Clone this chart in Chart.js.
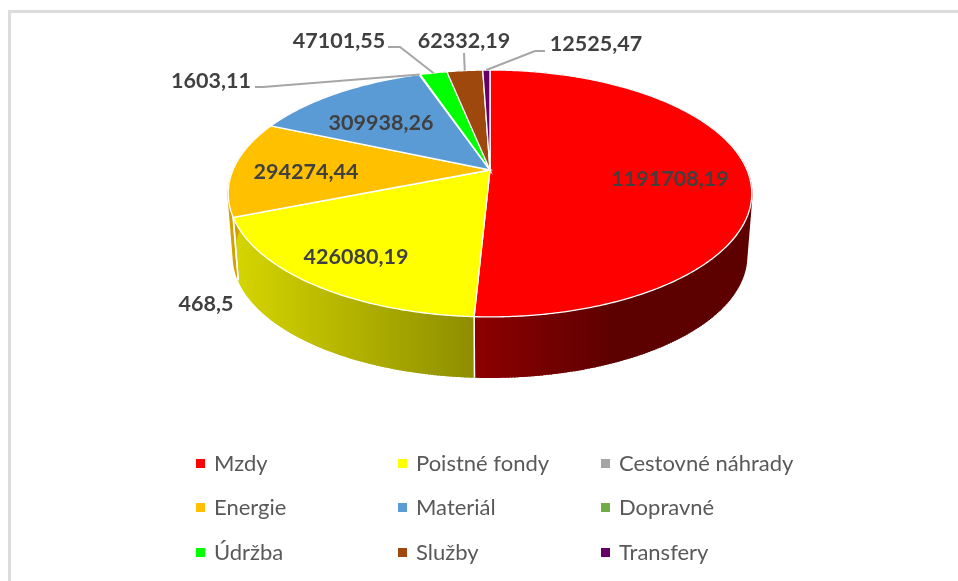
<!DOCTYPE html>
<html>
<head>
<meta charset="utf-8">
<script src="https://cdn.jsdelivr.net/npm/chart.js@4"></script>
<style>
    html, body { margin: 0; background: #fff; overflow: hidden; }
    #wrap { position: relative; width: 958px; height: 581px; }
    #pie { position: absolute; left: 0; top: 0; }
    #frameTop { position: absolute; left: 8px; top: 10px; width: 950px; height: 3px; background: #dcdcdc; }
    #frameLeft { position: absolute; left: 8px; top: 10px; width: 3px; height: 571px; background: #dcdcdc; }
    .leg { position: absolute; font: 22px Lato, sans-serif; color: #595959; white-space: nowrap; line-height: 24px; }
    .leg i { position: absolute; left: -18px; top: 8px; width: 9px; height: 9px; }
</style>
</head>
<body>
<div id="wrap">
    <div id="frameTop"></div>
    <div id="frameLeft"></div>
    <canvas id="pie" width="958" height="581"></canvas>
</div>
<script>
const categories = ['Mzdy', 'Poistné fondy', 'Cestovné náhrady', 'Energie', 'Materiál', 'Dopravné', 'Údržba', 'Služby', 'Transfery'];
const values = [1191708.19, 426080.19, 468.5, 294274.44, 309938.26, 1603.11, 47101.55, 62332.19, 12525.47];
const valueLabels = ['1191708,19', '426080,19', '468,5', '294274,44', '309938,26', '1603,11', '47101,55', '62332,19', '12525,47'];
const colors = ['#ff0000', '#ffff00', '#a5a5a5', '#ffc000', '#5b9bd5', '#70ad47', '#00ff00', '#9e480e', '#660066'];

// Label centres, and where a leader line leaves the label (null = no leader)
const labelPos = [[670, 179], [356, 257], [206, 304], [306, 172], [381, 123], [211, 81], [339, 41], [464, 41], [596, 44]];
const leaders = [null, null, null, null, null, [[255, 87], [263, 87]], [[388, 47], [400, 47]], [[464, 53]], [[545, 51], [535, 51]]];

// Legend layout
const legendCols = [214, 416, 619];
const legendRows = [451, 495, 540];

// Perspective of the tilted disc
const tilt = 0.19;
const squash = 0.463;
const depth = 64;
const bottomScale = 0.98;

function project(arc, angle, bottom) {
    const x = Math.cos(angle), y = Math.sin(angle);
    const d = 1 - tilt * y;
    const r = arc.outerRadius;
    if (bottom) {
        return [arc.x + bottomScale * r * x / d, arc.y + bottomScale * r * squash * y / d + depth];
    }
    return [arc.x + r * x / d, arc.y + r * squash * y / d];
}

function shade(hex, f) {
    const n = parseInt(hex.slice(1), 16);
    return `rgb(${Math.round((n >> 16) * f)},${Math.round(((n >> 8) & 255) * f)},${Math.round((n & 255) * f)})`;
}

function rimPoints(arc, bottom) {
    const pts = [];
    const steps = Math.max(2, Math.ceil((arc.endAngle - arc.startAngle) / 0.01));
    for (let i = 0; i <= steps; i++) {
        pts.push(project(arc, arc.startAngle + (arc.endAngle - arc.startAngle) * i / steps, bottom));
    }
    return pts;
}

function tracePoints(ctx, pts) {
    pts.forEach((p, i) => i ? ctx.lineTo(p[0], p[1]) : ctx.moveTo(p[0], p[1]));
}

const perspectivePie = {
    id: 'perspectivePie',
    beforeDatasetDraw(chart, args) {
        const ctx = chart.ctx;
        const arcs = chart.getDatasetMeta(args.index).data;
        const r = arcs[0].outerRadius, cx = arcs[0].x;

        // Side wall, shaded by horizontal position
        arcs.forEach((arc, i) => {
            const top = rimPoints(arc, false);
            const low = rimPoints(arc, true);
            const grad = ctx.createLinearGradient(cx - r, 0, cx + r, 0);
            grad.addColorStop(0, shade(colors[i], 0.84));
            grad.addColorStop(0.46, shade(colors[i], 0.56));
            grad.addColorStop(0.75, shade(colors[i], 0.36));
            grad.addColorStop(1, shade(colors[i], 0.37));
            ctx.beginPath();
            tracePoints(ctx, top.concat(low.slice().reverse()));
            ctx.closePath();
            ctx.fillStyle = grad;
            ctx.fill();
            // sweep top rim to bottom rim so the silhouette has no notch
            ctx.strokeStyle = grad;
            ctx.lineWidth = 1.5;
            ctx.beginPath();
            top.forEach((p, j) => tracePoints(ctx, [p, low[j]]));
            ctx.stroke();
        });

        // White cut where neighbouring walls meet
        ctx.strokeStyle = '#fff';
        ctx.lineWidth = 1.5;
        arcs.forEach(arc => {
            ctx.beginPath();
            tracePoints(ctx, [project(arc, arc.startAngle, false), project(arc, arc.startAngle, true)]);
            ctx.stroke();
        });

        // Top face, from the apex out to the rim
        arcs.forEach((arc, i) => {
            ctx.beginPath();
            tracePoints(ctx, [[arc.x, arc.y]].concat(rimPoints(arc, false)));
            ctx.closePath();
            ctx.fillStyle = colors[i];
            ctx.fill();
            ctx.strokeStyle = '#fff';
            ctx.lineWidth = 1.3;
            ctx.stroke();
        });
        return false;
    },
    afterDatasetsDraw(chart) {
        const ctx = chart.ctx;
        const arcs = chart.getDatasetMeta(0).data;
        ctx.strokeStyle = '#a6a6a6';
        ctx.lineWidth = 2;
        leaders.forEach((pts, i) => {
            if (!pts) return;
            const arc = arcs[i];
            const end = project(arc, (arc.startAngle + arc.endAngle) / 2, false);
            ctx.beginPath();
            tracePoints(ctx, pts.concat([end]));
            ctx.stroke();
        });
        ctx.font = 'bold 21.5px Lato, sans-serif';
        ctx.fillStyle = '#404040';
        ctx.textAlign = 'center';
        ctx.textBaseline = 'middle';
        valueLabels.forEach((t, i) => ctx.fillText(t, labelPos[i][0], labelPos[i][1]));
    }
};

new Chart(document.getElementById('pie'), {
    type: 'pie',
    data: {
        labels: categories,
        datasets: [{ data: values, backgroundColor: colors }]
    },
    options: {
        responsive: false,
        animation: false,
        events: [],
        radius: 257,
        layout: { padding: { left: 22, bottom: 241 } },
        plugins: { legend: { display: false }, tooltip: { enabled: false } }
    },
    plugins: [perspectivePie]
});

// Legend in three columns
const wrap = document.getElementById('wrap');
categories.forEach((name, i) => {
    const el = document.createElement('div');
    el.className = 'leg';
    el.style.left = legendCols[i % 3] + 'px';
    el.style.top = legendRows[Math.floor(i / 3)] + 'px';
    el.innerHTML = `<i style="background:${colors[i]}"></i>${name}`;
    wrap.appendChild(el);
});
</script>
</body>
</html>
